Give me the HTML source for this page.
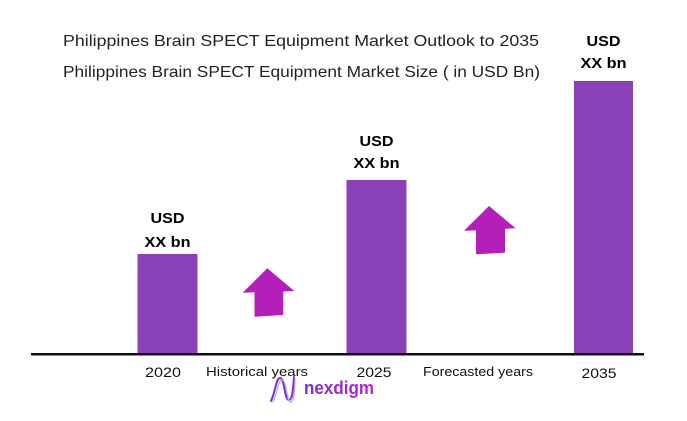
<!DOCTYPE html>
<html>
<head>
<meta charset="utf-8">
<style>
  html,body{margin:0;padding:0;background:#fff;}
  svg{display:block;}
  text{font-family:"Liberation Sans", Arial, sans-serif;}
</style>
</head>
<body>
<svg width="687" height="421" viewBox="0 0 687 421" xmlns="http://www.w3.org/2000/svg">
  <defs>
    <linearGradient id="lg" x1="0" x2="1" y1="0" y2="0">
      <stop offset="0" stop-color="#7b2fd6"/>
      <stop offset="1" stop-color="#b526c8"/>
    </linearGradient>
  </defs>
  <rect width="687" height="421" fill="#fff"/>

  <!-- Titles -->
  <text x="63" y="46" font-size="16" fill="#222" textLength="476" lengthAdjust="spacingAndGlyphs">Philippines Brain SPECT Equipment Market Outlook to 2035</text>
  <text x="63" y="77" font-size="16" fill="#222" textLength="477" lengthAdjust="spacingAndGlyphs">Philippines Brain SPECT Equipment Market Size ( in USD Bn)</text>

  <!-- Bars -->
  <rect x="137.5" y="254" width="60" height="101" fill="#8a40b9"/>
  <rect x="346.5" y="180" width="60" height="175" fill="#8a40b9"/>
  <rect x="574" y="81" width="59" height="274" fill="#8a40b9"/>

  <!-- Axis -->
  <rect x="31" y="353" width="613" height="2.5" fill="#111"/>

  <!-- Value labels -->
  <g font-weight="bold" font-size="14.5" fill="#000" text-anchor="middle">
    <text x="167.5" y="223" textLength="34" lengthAdjust="spacingAndGlyphs">USD</text>
    <text x="167.5" y="247" textLength="46" lengthAdjust="spacingAndGlyphs">XX bn</text>
    <text x="376.5" y="146" textLength="34" lengthAdjust="spacingAndGlyphs">USD</text>
    <text x="376.5" y="168" textLength="46" lengthAdjust="spacingAndGlyphs">XX bn</text>
    <text x="603.5" y="46" textLength="34" lengthAdjust="spacingAndGlyphs">USD</text>
    <text x="603.5" y="68" textLength="46" lengthAdjust="spacingAndGlyphs">XX bn</text>
  </g>

  <!-- Arrows -->
  <polygon points="267.3,268.3 294.3,291 283.3,291.5 283.3,315 254.5,316.7 254.5,292.3 242.7,292.7" fill="#b31fb8"/>
  <polygon points="489,206 515.7,228.3 505,228.8 505,252.7 476,254.3 476,230.4 464,230.7" fill="#b31fb8"/>

  <!-- X labels -->
  <g font-size="14" fill="#111" text-anchor="middle">
    <text x="163" y="377" textLength="36" lengthAdjust="spacingAndGlyphs">2020</text>
    <text x="374" y="377" textLength="35" lengthAdjust="spacingAndGlyphs">2025</text>
    <text x="599" y="378" textLength="35" lengthAdjust="spacingAndGlyphs">2035</text>
  </g>
  <g font-size="13" fill="#111">
    <text x="206" y="376" textLength="102" lengthAdjust="spacingAndGlyphs">Historical years</text>
    <text x="423" y="376" textLength="110" lengthAdjust="spacingAndGlyphs">Forecasted years</text>
  </g>

  <!-- Logo -->
  <g fill="none" stroke-linecap="round">
    <path d="M271,401 C276,390 276,378 280,378 C285,378 284,400 289,400 C293,400 293,386 294,377" stroke="#7b2fd6" stroke-width="2"/>
    <path d="M273,402 C278,391 278,380 282,380 C287,380 286,402 291,402 C294,402 295,388 295,379" stroke="#c59be8" stroke-width="1.2"/>
  </g>
  <text x="304" y="394" font-size="18.5" font-weight="bold" fill="url(#lg)" textLength="70" lengthAdjust="spacingAndGlyphs">nexdigm</text>
</svg>
</body>
</html>
